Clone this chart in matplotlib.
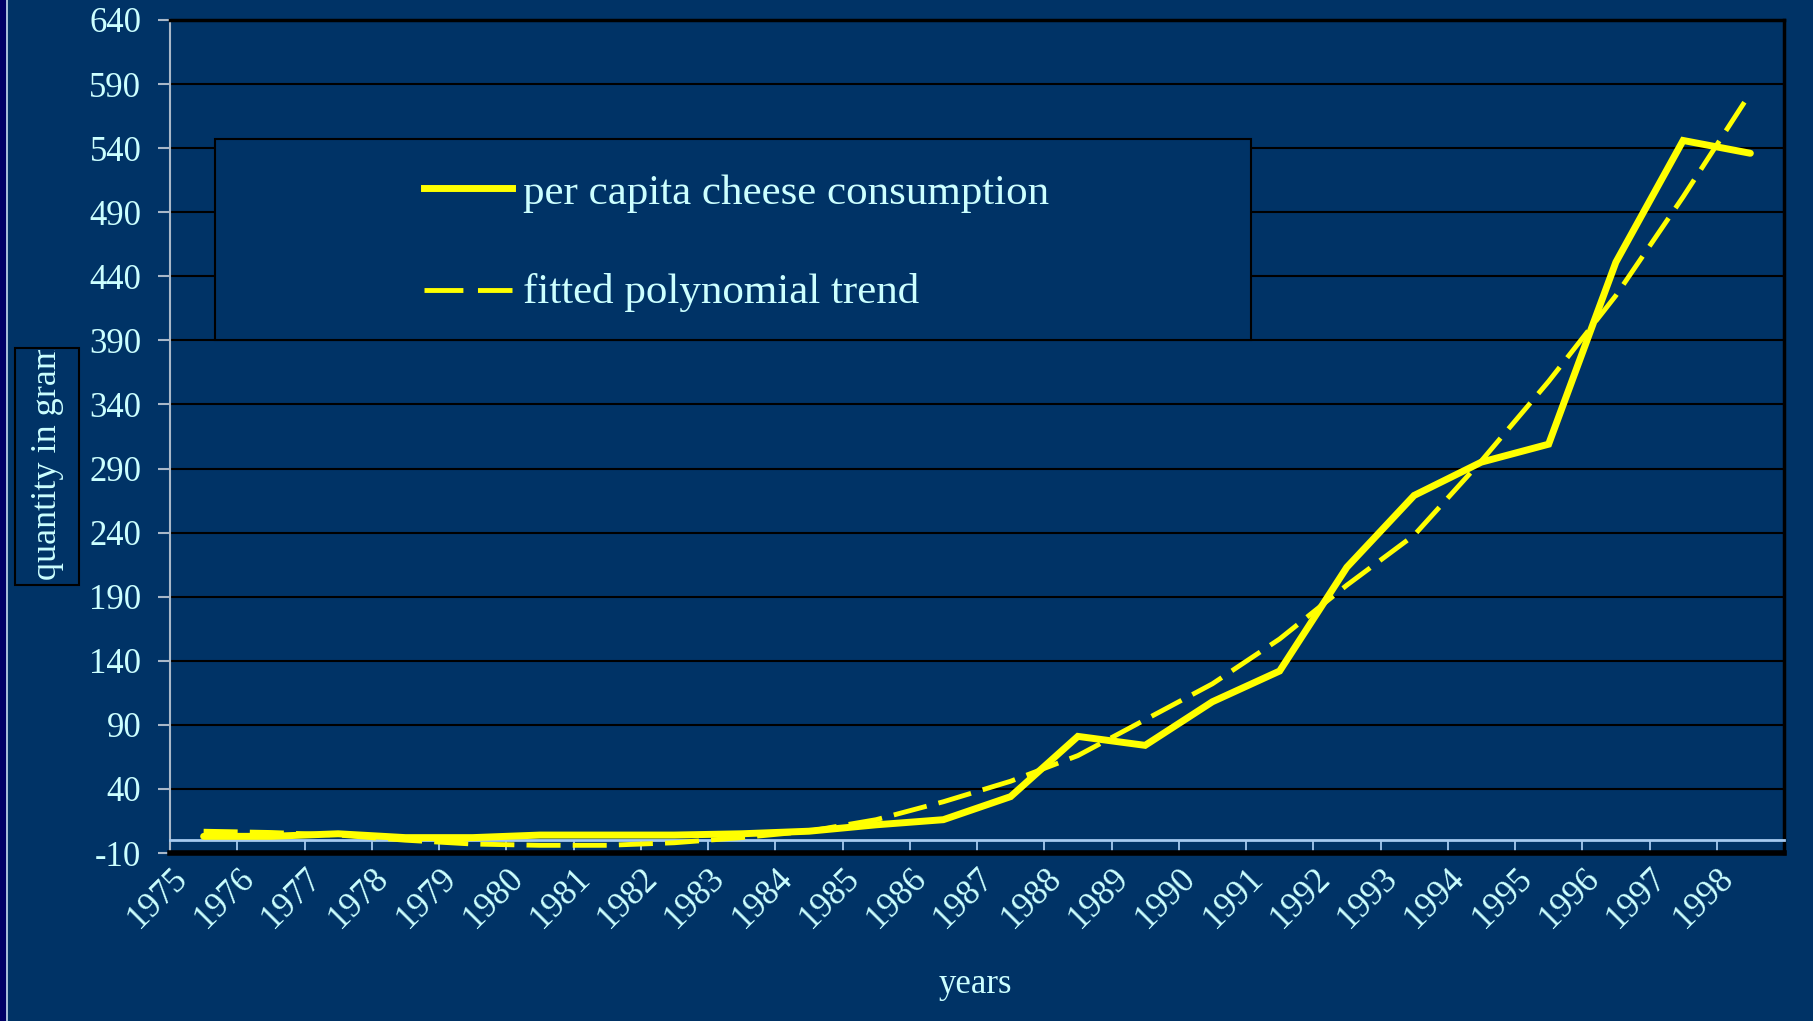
import numpy as np
import matplotlib
matplotlib.use("Agg")
import matplotlib.pyplot as plt
from matplotlib.patches import Rectangle
from matplotlib.lines import Line2D
from matplotlib.transforms import Bbox

years = [str(y) for y in range(1975, 1999)]
consumption = [3, 3, 5, 2, 2, 4, 4, 4, 5, 7, 12, 16, 34, 81, 74, 108, 132, 213,
               269, 295, 309, 451, 546, 536]
trend = [7, 6, 4, 0, -3, -4, -4, -2, 2, 7, 16, 30, 46, 66, 94, 122, 157, 199,
         238, 296, 358, 425, 502, 583]
yticks = list(range(-10, 641, 50))

W, H = 1813, 1021
BG = "#003366"
TXT = "#CCFFFF"
YEL = "#FFFF00"
SERIF = ["Liberation Serif", "DejaVu Serif"]

plt.rcParams["font.family"] = SERIF
fig = plt.figure(figsize=(W / 100, H / 100), dpi=100, facecolor=BG)


def fx(px):
    return px / W


def fy(py):
    return 1 - py / H


L, R, T, B = 170, 1784, 20, 853
ax = fig.add_axes([fx(L), fy(B), fx(R - L), fy(T) - fy(B)], facecolor=BG)

x = np.arange(len(years)) + 0.5
ax.plot(x, consumption, color=YEL, lw=5, solid_joinstyle="miter",
        solid_capstyle="round", zorder=4)
ax.plot(x, trend, color=YEL, lw=3.5, dashes=(7, 2.5), zorder=3)

ax.set_xlim(0, len(years))
ax.set_ylim(-10, 640)
ax.set_yticks(yticks)
ax.set_yticklabels([str(v) for v in yticks])
ax.set_xticks(np.arange(len(years) + 1))
ax.set_xticklabels(years + [""])

ax.yaxis.grid(True, color="black", lw=1.5)
ax.set_axisbelow(True)

for s in ["top", "right"]:
    ax.spines[s].set_color("black")
    ax.spines[s].set_linewidth(2.5)
ax.spines["left"].set_color("#A9B8C8")
ax.spines["left"].set_linewidth(1.5)
ax.spines["bottom"].set_position(("data", 0))
ax.spines["bottom"].set_color("#A6CAF0")
ax.spines["bottom"].set_linewidth(2)
ax.axhline(-10, color="black", lw=4, clip_on=False, zorder=5)

ax.tick_params(axis="y", colors="#A9B8C8", labelcolor=TXT, labelsize=25,
               length=8.6, width=1.5, pad=12)
ax.tick_params(axis="x", colors="#A6CAF0", labelcolor=TXT, labelsize=25,
               length=10, width=1.3, pad=6)
for lab in ax.get_xticklabels():
    lab.set_rotation(45)
    lab.set_ha("right")
    lab.set_va("top")
    lab.set_rotation_mode("anchor")
    lab.set_family(SERIF)
for lab in ax.get_yticklabels():
    lab.set_family(SERIF)

# left edge strip
fig.add_artist(Rectangle((0, 0), fx(6), 1, transform=fig.transFigure,
                         facecolor="#000066", edgecolor="none"))
fig.add_artist(Line2D([fx(7), fx(7)], [0, 1], transform=fig.transFigure,
                      color="#C8D8F0", lw=1.2))

# legend box
lx0, ly0, lx1, ly1 = 215, 139, 1251, 340
fig.add_artist(Rectangle((fx(lx0), fy(ly1)), fx(lx1 - lx0), fy(ly0) - fy(ly1),
                         transform=fig.transFigure, facecolor=BG,
                         edgecolor="black", lw=1.5))
fig.add_artist(Line2D([fx(424), fx(512)], [fy(188), fy(188)],
                      transform=fig.transFigure, color=YEL, lw=5))
fig.add_artist(Line2D([fx(424), fx(512)], [fy(290), fy(290)],
                      transform=fig.transFigure, color=YEL, lw=3.5,
                      dashes=(8, 3)))
fig.text(fx(523), fy(194), "per capita cheese consumption", color=TXT,
         fontsize=31, family=SERIF, ha="left", va="center")
fig.text(fx(523), fy(293), "fitted polynomial trend", color=TXT,
         fontsize=31, family=SERIF, ha="left", va="center")

# y label box (clipped text)
bx0, by0, bx1, by1 = 15, 348, 79, 585
fig.add_artist(Rectangle((fx(bx0), fy(by1)), fx(bx1 - bx0), fy(by0) - fy(by1),
                         transform=fig.transFigure, facecolor=BG,
                         edgecolor="black", lw=1.5))
yl = fig.text(fx(47), fy(580), "quantity in gram", color=TXT, fontsize=26,
              family=SERIF, rotation=90, rotation_mode="anchor",
              ha="left", va="center")
yl.set_clip_box(Bbox([[bx0, H - by1], [bx1, H - by0 - 2]]))
yl.set_clip_on(True)

fig.text(fx(975), fy(984), "years", color=TXT, fontsize=25, family=SERIF,
         ha="center", va="center")

fig.savefig("out.png", dpi=100, facecolor=BG)
